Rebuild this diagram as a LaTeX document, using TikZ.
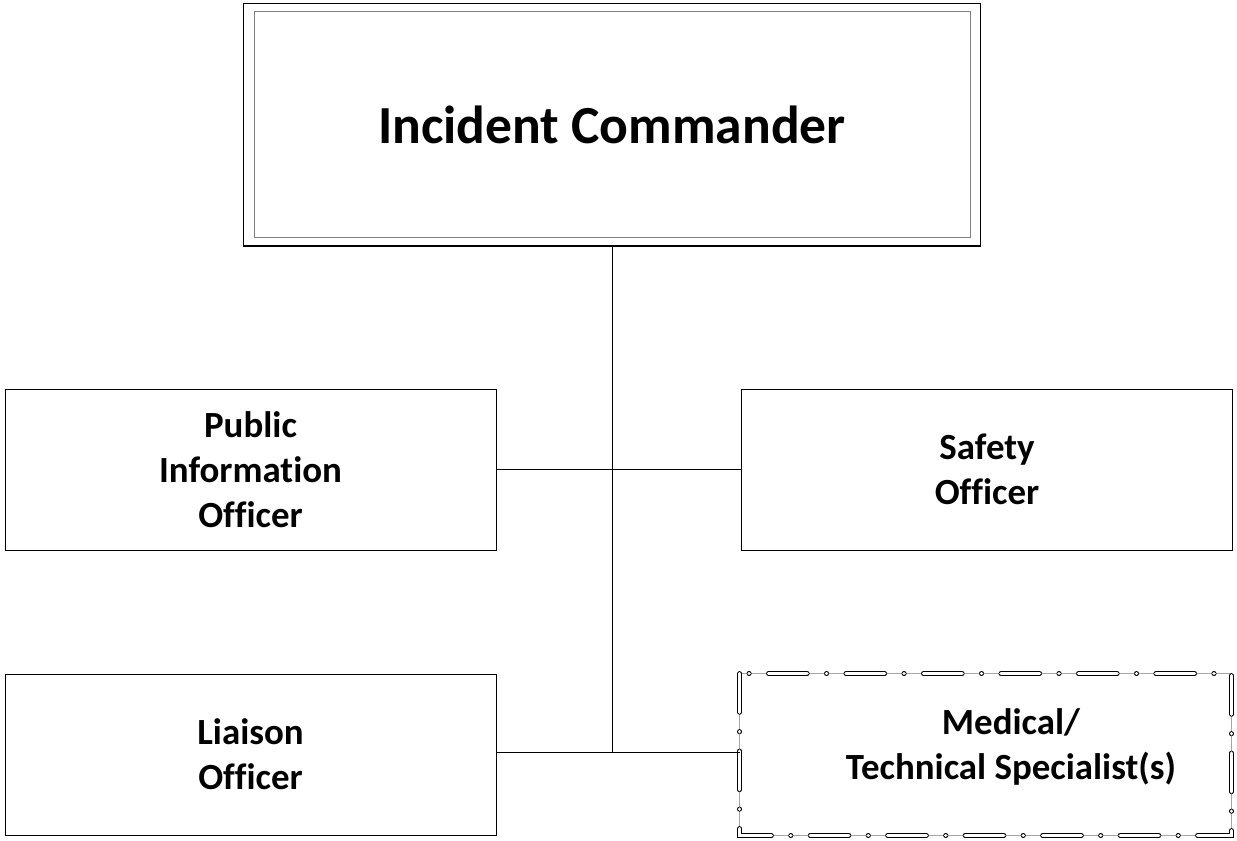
\documentclass[tikz,border=0pt]{standalone}
\usepackage{fontspec}
\setmainfont{Carlito}[Ligatures=NoCommon]
\usepackage{tikz}

\tikzset{
  officer/.style={draw, line width=0.5pt, minimum width=9.82cm, minimum height=3.22cm,
    align=center, font=\fontsize{21}{25.5}\selectfont\bfseries},
  chief/.style={draw, line width=0.6pt, minimum width=14.76cm, minimum height=4.86cm,
    font=\fontsize{30.5}{36}\selectfont\bfseries},
  link/.style={line width=0.5pt}
}

\begin{document}
\begin{tikzpicture}[x=0.02cm,y=-0.02cm]
\useasboundingbox (0,0) rectangle (1237,840);
\node[chief] (ic) at (612,124.5) {Incident Commander};
\draw[gray, line width=1pt] ([shift={(12,9)}]ic.north west) rectangle ([shift={(-11,-9)}]ic.south east);
\node[officer] (pio) at (250.5,469.5) {Public\\Information\\Officer};
\node[officer] (safety) at (987,469.5) {Safety\\Officer};
\node[officer] (liaison) at (250.5,754.5) {Liaison\\Officer};
\node[officer, draw=none] (med) at (985.5,754.5) {};
\node[officer, draw=none, minimum width=0pt, minimum height=0pt] (medtext) at (1011,747) {Medical/\\Technical Specialist(s)};
\draw[gray!70, line width=0.3pt] (med.north west) rectangle (med.south east);
\draw[line width=0.4pt, double, double distance=2pt, line cap=round,
  dash pattern=on 22pt off 11pt on 0.1pt off 11pt] (med.north west) rectangle (med.south east);
\coordinate (jn) at (612,752);
\draw[link] (ic.south) -- (jn);
\draw[link] (pio.east) -- (safety.west);
\draw[link] (liaison.east |- jn) -- (med.west |- jn);
\end{tikzpicture}
\end{document}
